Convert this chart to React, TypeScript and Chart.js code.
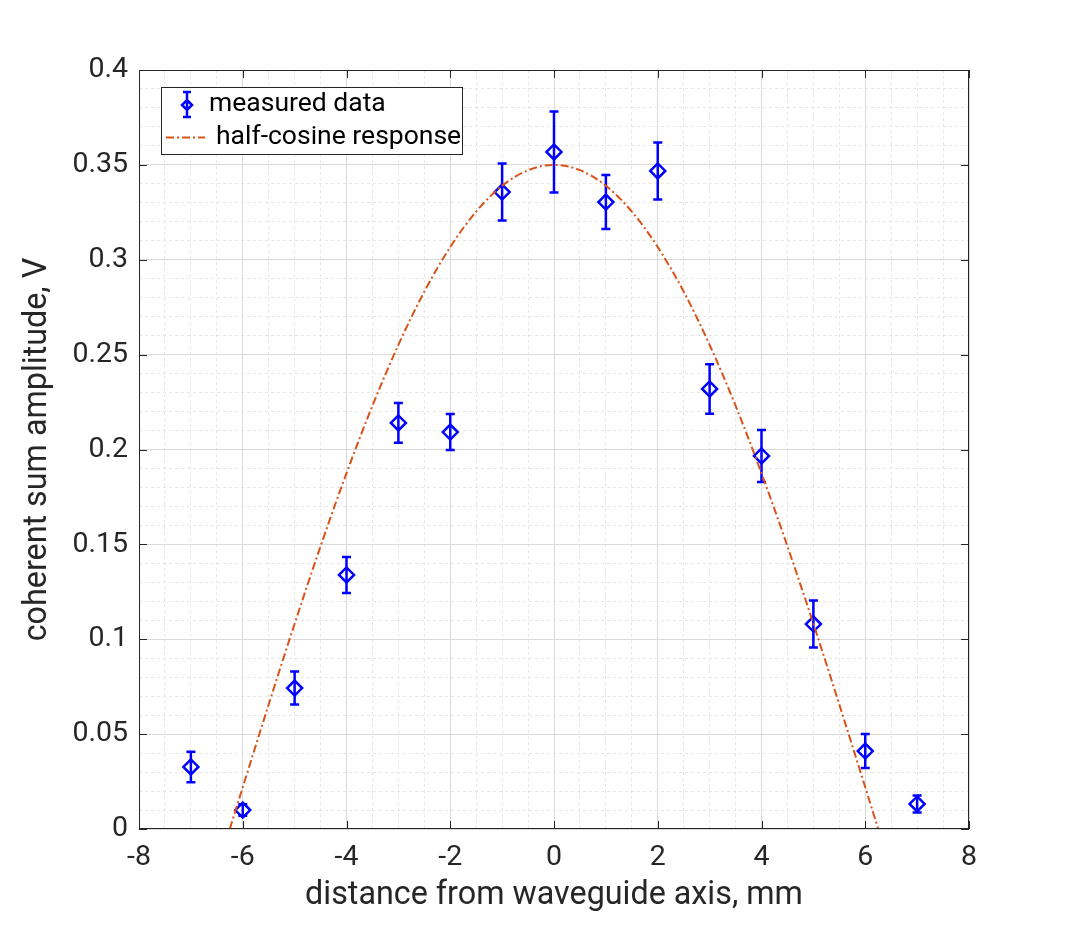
import React, { useEffect, useRef } from "react";
import { Chart, registerables, Plugin } from "chart.js";

Chart.register(...registerables);

// measured points
const positions = [-7, -6, -5, -4, -3, -2, -1, 0, 1, 2, 3, 4, 5, 6, 7];
const amplitudes = [
  0.0327, 0.01, 0.0743, 0.1339, 0.214, 0.2092, 0.3357, 0.3568, 0.3304, 0.3468,
  0.2319, 0.1966, 0.108, 0.0411, 0.0132,
];
const errors = [
  0.008, 0.003, 0.0087, 0.0095, 0.0105, 0.0095, 0.015, 0.0213, 0.0142, 0.015,
  0.013, 0.0137, 0.0124, 0.009, 0.0045,
];

// half-cosine curve, sampled off the figure
const curveX = [
  -6.25, -6, -5.5, -5, -4.5, -4, -3.5, -3, -2.5, -2, -1.5, -1, -0.5, 0, 0.5, 1,
  1.5, 2, 2.5, 3, 3.5, 4, 4.5, 5, 5.5, 6, 6.25,
];
const curveY = [
  0, 0.022, 0.0656, 0.1082, 0.149, 0.1875, 0.2231, 0.2551, 0.2832, 0.3067,
  0.3254, 0.339, 0.3472, 0.35, 0.3472, 0.339, 0.3254, 0.3067, 0.2832, 0.2551,
  0.2231, 0.1875, 0.149, 0.1082, 0.0656, 0.022, 0,
];

const xTicks = [-8, -6, -4, -2, 0, 2, 4, 6, 8];
const xTickLabels = ["-8", "-6", "-4", "-2", "0", "2", "4", "6", "8"];
const yTicks = [0, 0.05, 0.1, 0.15, 0.2, 0.25, 0.3, 0.35, 0.4];
const yTickLabels = ["0", "0.05", "0.1", "0.15", "0.2", "0.25", "0.3", "0.35", "0.4"];

const TEXT = "#262626";
const BLUE = "#0000ff";
const ORANGE = "#D95319";
const FONT = "Roboto";

const findTick = (list: number[], v: number) =>
  list.findIndex((t) => Math.abs(t - v) < 1e-6);

const errorBars: Plugin = {
  id: "errorBars",
  beforeDatasetsDraw(chart) {
    const { ctx } = chart;
    const meta = chart.getDatasetMeta(1);
    const y = chart.scales.y;
    ctx.save();
    ctx.strokeStyle = BLUE;
    ctx.lineWidth = 2.5;
    meta.data.forEach((pt, i) => {
      const px = pt.x;
      const top = y.getPixelForValue(amplitudes[i] + errors[i]);
      const bot = y.getPixelForValue(amplitudes[i] - errors[i]);
      ctx.beginPath();
      ctx.moveTo(px, top);
      ctx.lineTo(px, bot);
      ctx.moveTo(px - 4.5, top);
      ctx.lineTo(px + 4.5, top);
      ctx.moveTo(px - 4.5, bot);
      ctx.lineTo(px + 4.5, bot);
      ctx.stroke();
    });
    ctx.restore();
  },
};

const frame: Plugin = {
  id: "frame",
  afterDraw(chart) {
    const { ctx, chartArea: a } = chart;
    const x = chart.scales.x;
    const y = chart.scales.y;
    ctx.save();
    ctx.strokeStyle = TEXT;
    ctx.lineWidth = 1;
    ctx.strokeRect(a.left + 0.5, a.top + 0.5, a.right - a.left - 1, a.bottom - a.top - 1);
    ctx.beginPath();
    xTicks.forEach((v) => {
      const px = Math.round(x.getPixelForValue(v)) + 0.5;
      ctx.moveTo(px, a.bottom);
      ctx.lineTo(px, a.bottom - 8);
      ctx.moveTo(px, a.top);
      ctx.lineTo(px, a.top + 8);
    });
    yTicks.forEach((v) => {
      const py = Math.round(y.getPixelForValue(v)) + 0.5;
      ctx.moveTo(a.left, py);
      ctx.lineTo(a.left + 8, py);
      ctx.moveTo(a.right, py);
      ctx.lineTo(a.right - 8, py);
    });
    ctx.stroke();

    // legend
    const bx = 161, by = 87, bw = 301, bh = 67;
    ctx.fillStyle = "#ffffff";
    ctx.fillRect(bx, by, bw, bh);
    ctx.strokeStyle = TEXT;
    ctx.strokeRect(bx + 0.5, by + 0.5, bw, bh);

    // errorbar symbol
    const mx = 187, my = 105;
    ctx.strokeStyle = BLUE;
    ctx.lineWidth = 2.5;
    ctx.beginPath();
    ctx.moveTo(mx, 92);
    ctx.lineTo(mx, 117);
    ctx.moveTo(mx - 4, 92);
    ctx.lineTo(mx + 4, 92);
    ctx.moveTo(mx - 4, 117);
    ctx.lineTo(mx + 4, 117);
    ctx.moveTo(mx, my - 5);
    ctx.lineTo(mx + 5, my);
    ctx.lineTo(mx, my + 5);
    ctx.lineTo(mx - 5, my);
    ctx.closePath();
    ctx.stroke();

    // line symbol
    ctx.strokeStyle = ORANGE;
    ctx.lineWidth = 2;
    ctx.setLineDash([8, 3, 2, 3]);
    ctx.beginPath();
    ctx.moveTo(166, 137.5);
    ctx.lineTo(205, 137.5);
    ctx.stroke();
    ctx.setLineDash([]);

    ctx.fillStyle = "#000000";
    ctx.font = `26.5px ${FONT}`;
    ctx.textBaseline = "middle";
    ctx.textAlign = "left";
    ctx.fillText("measured data", 209, 104);
    ctx.fillText("half-cosine response", 216, 137);
    ctx.restore();
  },
};

export default function App() {
  const canvasRef = useRef<HTMLCanvasElement | null>(null);
  const chartRef = useRef<Chart | null>(null);

  useEffect(() => {
    if (!canvasRef.current) return;
    if (chartRef.current) chartRef.current.destroy();

    const isMajorX = (v: number) => findTick(xTicks, v) >= 0;
    const isMajorY = (v: number) => findTick(yTicks, v) >= 0;

    chartRef.current = new Chart(canvasRef.current, {
      type: "scatter",
      data: {
        datasets: [
          {
            type: "line",
            label: "half-cosine response",
            data: curveX.map((x, i) => ({ x, y: curveY[i] })),
            borderColor: ORANGE,
            borderWidth: 2,
            borderDash: [8, 3, 2, 3],
            pointRadius: 0,
            cubicInterpolationMode: "monotone",
            fill: false,
          },
          {
            label: "measured data",
            data: positions.map((x, i) => ({ x, y: amplitudes[i] })),
            pointStyle: "rectRot",
            pointRadius: 7.5,
            pointBorderWidth: 2.5,
            pointBorderColor: BLUE,
            pointBackgroundColor: "rgba(0,0,0,0)",
            showLine: false,
          },
        ],
      },
      options: {
        animation: false,
        responsive: true,
        maintainAspectRatio: false,
        layout: { padding: { top: 70, right: 103, left: 0, bottom: 0 } },
        plugins: {
          legend: { display: false },
          tooltip: { enabled: false },
        },
        scales: {
          x: {
            type: "linear",
            min: -8,
            max: 8,
            afterFit: (s) => {
              s.height = 104;
            },
            ticks: {
              stepSize: 0.5,
              autoSkip: false,
              maxRotation: 0,
              padding: 12,
              color: TEXT,
              font: { family: FONT, size: 28.5 },
              callback: (v) => {
                const i = findTick(xTicks, Number(v));
                return i >= 0 ? xTickLabels[i] : "";
              },
            },
            grid: {
              drawTicks: false,
              color: (c) => (isMajorX(c.tick?.value ?? 0.1) ? "#dadada" : "#e6e6e6"),
            },
            border: {
              display: false,
              dash: (c) => (isMajorX(c.tick?.value ?? 0.1) ? [] : [3, 3]),
            },
            title: {
              display: true,
              text: "distance from waveguide axis, mm",
              color: TEXT,
              font: { family: FONT, size: 32.3 },
              padding: { top: 0, bottom: 18 },
            },
          },
          y: {
            type: "linear",
            min: 0,
            max: 0.4,
            afterFit: (s) => {
              s.width = 139;
            },
            ticks: {
              stepSize: 0.01,
              autoSkip: false,
              padding: 11,
              color: TEXT,
              font: { family: FONT, size: 28.5 },
              callback: (v) => {
                const i = findTick(yTicks, Number(v));
                return i >= 0 ? yTickLabels[i] : "";
              },
            },
            grid: {
              drawTicks: false,
              color: (c) => (isMajorY(c.tick?.value ?? 0.001) ? "#dadada" : "#e6e6e6"),
            },
            border: {
              display: false,
              dash: (c) => (isMajorY(c.tick?.value ?? 0.001) ? [] : [3, 3]),
            },
            title: {
              display: true,
              text: "coherent sum amplitude, V",
              color: TEXT,
              font: { family: FONT, size: 32.3 },
              padding: { top: 19, bottom: 0 },
            },
          },
        },
      },
      plugins: [errorBars, frame],
    });

    return () => {
      if (chartRef.current) {
        chartRef.current.destroy();
        chartRef.current = null;
      }
    };
  }, []);

  return (
    <div
      style={{
        position: "absolute",
        left: 0,
        top: 0,
        width: "1072px",
        height: "933px",
        background: "#ffffff",
      }}
    >
      <canvas ref={canvasRef} />
    </div>
  );
}
